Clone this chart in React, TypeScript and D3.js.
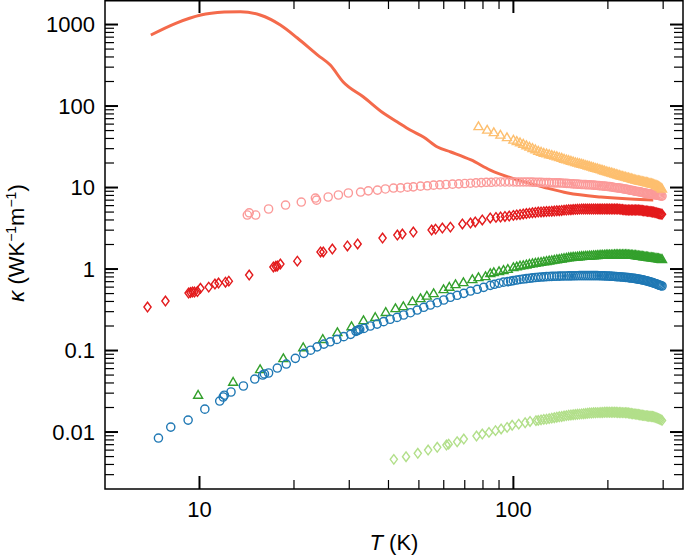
import React from 'react';
import * as d3 from 'd3';

// ---- data (T in K, kappa in W/K/m) ----
const lineT = [7.0, 8.4, 10.1, 12.0, 13.5, 15.6, 18.1, 20.5, 23.8, 26.1, 28.7, 33.3, 38.5, 42.7, 46.9, 51.7, 57.3, 63.2, 73.3, 84.4, 103, 125, 149, 190, 236, 279];
const lineK = [743, 1035, 1308, 1420, 1440, 1308, 986, 683, 422, 318, 197, 129, 82, 63.6, 50.8, 41.7, 31.4, 27.3, 21.8, 16.4, 12.4, 10.1, 8.57, 7.65, 7.22, 7.05];

// temperatures of the dense high-T sweep (shared by all measured series)
const denseT = [
  100, 102.5, 105, 107.5, 110, 112.5, 115, 117.5, 120, 122.5,
  125, 127.5, 130, 132.5, 135, 137.5, 140, 142.5, 145, 147.5,
  150, 152.5, 155, 157.5, 160, 162.5, 165, 167.5, 170, 172.5,
  175, 177.5, 180, 182.5, 185, 187.5, 190, 192.5, 195, 197.5,
  200, 202.5, 205, 207.5, 210, 212.5, 215, 217.5, 220, 222.5,
  225, 227.5, 230, 232.5, 235, 237.5, 240, 242.5, 245, 247.5,
  250, 252.5, 255, 257.5, 260, 262.5, 265, 267.5, 270, 272.5,
  275, 277.5, 280, 282.5, 285, 287.5, 290, 292.5, 295, 297.5,
];

const blueLowT = [7.4, 8.1, 9.2, 10.4, 11.6, 11.9, 12.0, 12.6, 13.8, 15.0, 15.9, 16.1, 16.6, 17.7, 18.9, 20.2, 21.5, 22.6, 23.7, 24.9, 26.1, 27.4, 28.8, 30.3, 31.5, 31.8, 32.1, 32.4, 33.4, 35.0, 36.8, 38.6, 40.5, 42.6, 44.7, 47.0, 49.4, 51.8, 54.4, 57.2, 60.0, 63.0, 66.2, 69.5, 73.0, 76.7, 80.4, 84.4, 87, 90, 93, 96, 98];
const blueLowK = [0.00844, 0.0115, 0.014, 0.0191, 0.024, 0.0269, 0.0283, 0.031, 0.0367, 0.0447, 0.05, 0.0516, 0.053, 0.061, 0.0683, 0.0802, 0.0924, 0.101, 0.111, 0.12, 0.128, 0.137, 0.148, 0.158, 0.172, 0.176, 0.179, 0.182, 0.187, 0.2, 0.211, 0.226, 0.242, 0.255, 0.273, 0.291, 0.314, 0.339, 0.362, 0.386, 0.417, 0.45, 0.476, 0.503, 0.537, 0.564, 0.596, 0.631, 0.65, 0.67, 0.69, 0.70, 0.71];
const blueHighK = [
  0.72, 0.733, 0.745, 0.754, 0.762, 0.77, 0.778, 0.786, 0.793, 0.797,
  0.801, 0.806, 0.81, 0.813, 0.815, 0.817, 0.819, 0.821, 0.822, 0.823,
  0.824, 0.825, 0.826, 0.827, 0.828, 0.829, 0.829, 0.83, 0.83, 0.83,
  0.83, 0.83, 0.83, 0.83, 0.829, 0.828, 0.827, 0.826, 0.824, 0.822,
  0.82, 0.818, 0.816, 0.814, 0.811, 0.808, 0.805, 0.803, 0.8, 0.797,
  0.794, 0.791, 0.788, 0.784, 0.78, 0.776, 0.772, 0.768, 0.763, 0.758,
  0.753, 0.748, 0.742, 0.736, 0.73, 0.724, 0.717, 0.71, 0.703, 0.696,
  0.689, 0.681, 0.673, 0.665, 0.657, 0.649, 0.64, 0.632, 0.625, 0.619,
];

const greenLowT = [9.9, 12.8, 15.6, 18.5, 21.4, 24.7, 27.5, 30.5, 33.3, 36.3, 39.2, 42.1, 44.6, 47.7, 50.6, 53.0, 55.7, 59.9, 62.5, 65.4, 69.3, 74.0, 77.4, 81.5, 84.4, 86.6, 90, 93, 96];
const greenLowK = [0.0279, 0.0403, 0.0577, 0.0787, 0.107, 0.135, 0.164, 0.194, 0.23, 0.251, 0.29, 0.323, 0.342, 0.394, 0.428, 0.46, 0.493, 0.552, 0.59, 0.636, 0.673, 0.733, 0.775, 0.798, 0.868, 0.893, 0.92, 0.95, 0.98];
const greenHighK = [
  1.03, 1.05, 1.075, 1.09, 1.11, 1.13, 1.15, 1.165, 1.18, 1.195,
  1.21, 1.225, 1.24, 1.255, 1.27, 1.285, 1.3, 1.315, 1.33, 1.345,
  1.36, 1.37, 1.38, 1.385, 1.39, 1.4, 1.41, 1.415, 1.42, 1.425,
  1.43, 1.435, 1.44, 1.445, 1.45, 1.455, 1.46, 1.46, 1.465, 1.47,
  1.47, 1.472, 1.475, 1.477, 1.48, 1.48, 1.48, 1.48, 1.48, 1.48,
  1.48, 1.48, 1.48, 1.475, 1.47, 1.465, 1.46, 1.455, 1.45, 1.44,
  1.43, 1.425, 1.42, 1.41, 1.4, 1.395, 1.39, 1.38, 1.37, 1.365,
  1.36, 1.355, 1.35, 1.34, 1.33, 1.325, 1.32, 1.31, 1.3, 1.295,
];

const redLowT = [6.83, 7.79, 9.23, 9.36, 9.5, 9.64, 9.85, 10.07, 10.7, 11.2, 11.5, 12.1, 12.4, 14.4, 17.2, 17.5, 17.7, 18.1, 20.5, 24.3, 24.8, 26.5, 29.6, 31.9, 38.3, 42.7, 44.3, 48.0, 54.9, 56.5, 59.4, 63.0, 68.8, 73.0, 75.6, 79.6, 84.4, 88, 91, 94, 97];
const redLowK = [0.342, 0.405, 0.508, 0.515, 0.522, 0.522, 0.53, 0.58, 0.6, 0.655, 0.673, 0.69, 0.71, 0.844, 1.06, 1.08, 1.09, 1.15, 1.25, 1.62, 1.62, 1.76, 1.92, 2.03, 2.4, 2.61, 2.69, 2.84, 3.01, 3.09, 3.18, 3.27, 3.57, 3.67, 3.78, 4.0, 4.23, 4.3, 4.35, 4.42, 4.47];
const redHighK = [
  4.55, 4.62, 4.68, 4.74, 4.8, 4.85, 4.9, 4.95, 5.0, 5.02,
  5.05, 5.08, 5.1, 5.12, 5.15, 5.18, 5.2, 5.24, 5.28, 5.3,
  5.33, 5.35, 5.38, 5.4, 5.42, 5.43, 5.45, 5.45, 5.45, 5.45,
  5.45, 5.45, 5.45, 5.45, 5.45, 5.45, 5.45, 5.45, 5.45, 5.45,
  5.45, 5.45, 5.45, 5.45, 5.45, 5.45, 5.45, 5.43, 5.4, 5.38,
  5.35, 5.32, 5.3, 5.3, 5.3, 5.3, 5.3, 5.3, 5.3, 5.3,
  5.3, 5.28, 5.25, 5.22, 5.2, 5.17, 5.15, 5.12, 5.1, 5.07,
  5.05, 5.02, 5.0, 4.95, 4.9, 4.85, 4.8, 4.76, 4.73, 4.7,
];

const pinkLowT = [14.2, 14.4, 15.1, 16.6, 18.8, 21.1, 23.4, 23.6, 25.7, 27.7, 29.8, 32.6, 34.5, 36.9, 39.1, 41.5, 43.7, 46.0, 48.0, 50.6, 53.2, 55.7, 58.3, 61, 64, 67, 70, 73, 76, 79, 82, 85, 88, 91, 94, 97];
const pinkLowK = [4.6, 4.9, 4.6, 5.45, 6.1, 6.64, 7.43, 7.0, 7.65, 8.1, 8.57, 8.8, 9.1, 9.3, 9.6, 9.86, 9.9, 10.1, 10.2, 10.4, 10.5, 10.7, 10.8, 10.9, 11.0, 11.1, 11.2, 11.3, 11.4, 11.5, 11.6, 11.6, 11.7, 11.7, 11.7, 11.7];
const pinkHighK = [
  11.7, 11.7, 11.7, 11.7, 11.7, 11.7, 11.65, 11.6, 11.6, 11.6,
  11.5, 11.5, 11.5, 11.45, 11.4, 11.4, 11.4, 11.35, 11.3, 11.25,
  11.2, 11.15, 11.1, 11.05, 11.0, 10.95, 10.9, 10.9, 10.85, 10.8,
  10.8, 10.75, 10.7, 10.65, 10.6, 10.55, 10.5, 10.45, 10.4, 10.35,
  10.3, 10.25, 10.2, 10.1, 10.0, 9.95, 9.9, 9.85, 9.8, 9.7,
  9.6, 9.55, 9.5, 9.4, 9.3, 9.25, 9.2, 9.1, 9.0, 8.95,
  8.9, 8.85, 8.8, 8.7, 8.6, 8.55, 8.5, 8.45, 8.4, 8.35,
  8.3, 8.25, 8.2, 8.15, 8.1, 8.05, 8.0, 7.95, 7.9, 7.85,
];

const orangeLowT = [77.4, 82.5, 86.6, 90.9, 95.4];
const orangeLowK = [55.3, 50.0, 46.6, 43.5, 40.5];
const orangeHighK = [
  37.7, 36.3, 35.0, 33.6, 32.2, 31.0, 29.8, 28.7, 27.6, 26.8,
  26.0, 25.6, 25.0, 24.5, 24.0, 23.6, 23.0, 22.6, 22.0, 21.6,
  21.2, 20.8, 20.4, 20.0, 19.7, 19.4, 19.1, 18.8, 18.5, 18.2,
  17.9, 17.6, 17.3, 17.0, 16.8, 16.5, 16.3, 16.0, 15.8, 15.5,
  15.3, 15.1, 14.9, 14.7, 14.5, 14.3, 14.1, 13.9, 13.7, 13.55,
  13.4, 13.25, 13.1, 12.95, 12.8, 12.65, 12.5, 12.35, 12.2, 12.1,
  12.0, 11.9, 11.8, 11.7, 11.6, 11.5, 11.4, 11.3, 11.2, 11.1,
  11.0, 10.9, 10.8, 10.65, 10.5, 10.35, 10.2, 10.0, 9.8, 9.5,
];

// light green set: sparse up to ~118 K, dense sweep from 120 K
const limeLowT = [41.6, 45.5, 49.6, 53.5, 57.2, 61.2, 62.2, 66.2, 69.5, 76.3, 79.6, 83.6, 87.7, 91.4, 95.5, 99.1, 104, 109, 113, 118];
const limeLowK = [0.00462, 0.00498, 0.00548, 0.00601, 0.00649, 0.00692, 0.0071, 0.0076, 0.0082, 0.00893, 0.00945, 0.0099, 0.0104, 0.0109, 0.0114, 0.0121, 0.0125, 0.013, 0.0135, 0.0138];
const limeHighK = [
  0.0139, 0.0141,
  0.0143, 0.0144, 0.0146, 0.0148, 0.015, 0.0152, 0.0154, 0.0155, 0.0157, 0.0159,
  0.0161, 0.0162, 0.0163, 0.0164, 0.0165, 0.0166, 0.0167, 0.0168, 0.0169, 0.017,
  0.0171, 0.0171, 0.0172, 0.0172, 0.0173, 0.0173, 0.0174, 0.0174, 0.0175, 0.0175,
  0.0175, 0.0175, 0.0175, 0.0175, 0.0175, 0.0175, 0.0174, 0.0174, 0.0174, 0.0173,
  0.0173, 0.0172, 0.0172, 0.0171, 0.017, 0.0169, 0.0168, 0.0167, 0.0166, 0.0165,
  0.0164, 0.0163, 0.0162, 0.0161, 0.016, 0.0159, 0.0158, 0.0157, 0.0156, 0.0156,
  0.0155, 0.0155, 0.0154, 0.0152, 0.015, 0.0148, 0.0146, 0.0144, 0.0142, 0.0139,
];

const yMajor = [0.01, 0.1, 1, 10, 100, 1000];
const yMajorLabels = ['0.01', '0.1', '1', '10', '100', '1000'];
const xMajor = [10, 100];
const xMajorLabels = ['10', '100'];
const xMinor = [20, 30, 40, 50, 60, 70, 80, 90, 200, 300];

const W = 685;
const H = 556;
const left = 105, right = 683, top = 0, bottom = 489;

const x = d3.scaleLog().domain([5, 347]).range([left, right]);
const y = d3.scaleLog().domain([0.002, 2000]).range([bottom, top]);

// minor y ticks 2..9 in every decade inside the domain
const yMinor: number[] = [];
for (let e = -3; e <= 3; e++) {
  for (let m = 2; m <= 9; m++) {
    const v = m * Math.pow(10, e);
    if (v > 0.002 && v < 2000) yMinor.push(v);
  }
}

const font = '"Liberation Sans", Arial, Helvetica, sans-serif';

const diamond = 'M0,-4.8L3.6,0L0,4.8L-3.6,0Z';
const triangle = 'M0,-5.2L4.5,2.6L-4.5,2.6Z';

function Markers({ T, K, color, kind }: { T: number[]; K: number[]; color: string; kind: string }) {
  return (
    <g>
      {T.map((t, i) =>
        kind === 'circle' ? (
          <circle key={i} cx={x(t)} cy={y(K[i])} r={4.1} fill="none" stroke={color} strokeWidth={1.4} />
        ) : (
          <path
            key={i}
            d={kind === 'diamond' ? diamond : triangle}
            transform={`translate(${x(t)},${y(K[i])})`}
            fill="none"
            stroke={color}
            strokeWidth={1.4}
          />
        )
      )}
    </g>
  );
}

export default function App() {
  const linePath = d3
    .line<number>()
    .x((d) => x(d))
    .y((_, i) => y(lineK[i]))
    .curve(d3.curveMonotoneX)(lineT) as string;

  const limeDenseT = denseT.slice(8);

  return (
    <svg width={W} height={H} style={{ position: 'absolute', left: 0, top: 0 }} fontFamily={font}>
      <rect width={W} height={H} fill="white" />

      <Markers T={greenLowT.concat(denseT)} K={greenLowK.concat(greenHighK)} color="#33a02c" kind="triangle" />
      <Markers T={blueLowT.concat(denseT)} K={blueLowK.concat(blueHighK)} color="#1f78b4" kind="circle" />
      <Markers T={redLowT.concat(denseT)} K={redLowK.concat(redHighK)} color="#e31a1c" kind="diamond" />
      <Markers T={limeLowT.concat(limeDenseT)} K={limeLowK.concat(limeHighK)} color="#b2df8a" kind="diamond" />
      <path d={linePath} fill="none" stroke="#f46a4b" strokeWidth={3} />
      <Markers T={pinkLowT.concat(denseT)} K={pinkLowK.concat(pinkHighK)} color="#fb9a99" kind="circle" />
      <Markers T={orangeLowT.concat(denseT)} K={orangeLowK.concat(orangeHighK)} color="#fdbf6f" kind="triangle" />

      {/* frame */}
      <rect x={left} y={top + 0.75} width={right - left} height={bottom - top - 0.75} fill="none" stroke="#000" strokeWidth={1.5} />

      {/* y ticks, both sides, inward */}
      {yMajor.map((v) => (
        <g key={'ym' + v}>
          <line x1={left} x2={left + 13} y1={y(v)} y2={y(v)} stroke="#000" strokeWidth={2} />
          <line x1={right - 13} x2={right} y1={y(v)} y2={y(v)} stroke="#000" strokeWidth={2} />
        </g>
      ))}
      {yMinor.map((v) => (
        <g key={'yn' + v}>
          <line x1={left} x2={left + 9} y1={y(v)} y2={y(v)} stroke="#000" strokeWidth={1.2} />
          <line x1={right - 9} x2={right} y1={y(v)} y2={y(v)} stroke="#000" strokeWidth={1.2} />
        </g>
      ))}
      {yMajor.map((v, i) => (
        <text key={'yl' + v} x={95} y={y(v)} dy="0.36em" textAnchor="end" fontSize={22} fill="#000">
          {yMajorLabels[i]}
        </text>
      ))}

      {/* x ticks, both sides, inward */}
      {xMajor.map((v) => (
        <g key={'xm' + v}>
          <line x1={x(v)} x2={x(v)} y1={bottom} y2={bottom - 13} stroke="#000" strokeWidth={2} />
          <line x1={x(v)} x2={x(v)} y1={top} y2={top + 13} stroke="#000" strokeWidth={2} />
        </g>
      ))}
      {xMinor.map((v) => (
        <g key={'xn' + v}>
          <line x1={x(v)} x2={x(v)} y1={bottom} y2={bottom - 9} stroke="#000" strokeWidth={1.2} />
          <line x1={x(v)} x2={x(v)} y1={top} y2={top + 9} stroke="#000" strokeWidth={1.2} />
        </g>
      ))}
      {xMajor.map((v, i) => (
        <text key={'xl' + v} x={x(v)} y={517} textAnchor="middle" fontSize={22} fill="#000">
          {xMajorLabels[i]}
        </text>
      ))}

      {/* axis titles */}
      <text x={(left + right) / 2} y={550} textAnchor="middle" fontSize={22} fill="#000">
        <tspan fontStyle="italic">T</tspan> (K)
      </text>
      <text transform="translate(24,243) rotate(-90)" textAnchor="middle" fontSize={22} fill="#000">
        <tspan fontStyle="italic">κ</tspan> (WK
        <tspan fontSize={14} dy={-8}>−1</tspan>
        <tspan dy={8}>m</tspan>
        <tspan fontSize={14} dy={-8}>−1</tspan>
        <tspan dy={8}>)</tspan>
      </text>
    </svg>
  );
}
